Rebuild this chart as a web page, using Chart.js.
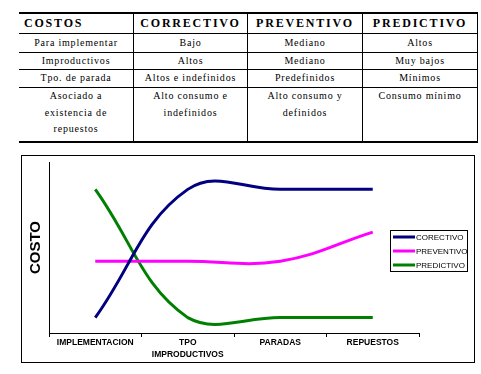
<!DOCTYPE html>
<html>
<head>
<meta charset="utf-8">
<script src="https://cdn.jsdelivr.net/npm/chart.js@4/dist/chart.umd.min.js"></script>
<style>
  html, body { margin:0; padding:0; background:#fff; }
  body { width:481px; height:374px; position:relative; overflow:hidden; }
  .ln { position:absolute; background:#000; }
  .cell { position:absolute; box-sizing:border-box; text-align:center; color:#000;
          font-family:"Liberation Serif","Times New Roman",serif; white-space:pre-line; }
  .hd { font-size:12px; font-weight:bold; letter-spacing:1.8px; line-height:19px; }
  .bd { font-size:10px; letter-spacing:0.8px; line-height:16.5px; }
  #box { position:absolute; left:21px; top:155px; width:454px; height:208px;
         border:1px solid #000; box-sizing:border-box; }
  #wrap { position:relative; width:452px; height:206px; }
</style>
</head>
<body>
<div id="tbl"></div>
<div id="box"><div id="wrap"><canvas id="c"></canvas></div></div>
<script>
// ---- table content ----
const tableHeaders = ['COSTOS', 'CORRECTIVO', 'PREVENTIVO', 'PREDICTIVO'];
const tableRows = [
  ['Para implementar', 'Bajo', 'Mediano', 'Altos'],
  ['Improductivos', 'Altos', 'Mediano', 'Muy bajos'],
  ['Tpo. de parada', 'Altos e indefinidos', 'Predefinidos', 'Mínimos'],
  ['Asociado a\nexistencia de\nrepuestos', 'Alto consumo e\nindefinidos', 'Alto consumo y\ndefinidos', 'Consumo mínimo']
];

// ---- chart data ----
const categories = ['IMPLEMENTACION', ['TPO', 'IMPRODUCTIVOS'], 'PARADAS', 'REPUESTOS'];
const seriesNames = ['CORECTIVO', 'PREVENTIVO', 'PREDICTIVO'];
const correctivo = [0.9, 8.4, 8.4, 8.4];
const preventivo = [4.2, 4.2, 4.2, 5.9];
const predictivo = [8.4, 0.9, 0.9, 0.9];
const yAxisTitle = 'COSTO';

// ---- build table ----
(function () {
  const t = document.getElementById('tbl');
  const colX = [19, 133, 247, 362, 477];
  function line(x, y, w, h) {
    const d = document.createElement('div');
    d.className = 'ln';
    d.style.left = x + 'px'; d.style.top = y + 'px';
    d.style.width = w + 'px'; d.style.height = h + 'px';
    t.appendChild(d);
  }
  line(19, 12, 459, 2);
  line(19, 33, 459, 1);
  line(19, 52, 459, 1);
  line(19, 69, 459, 1);
  line(19, 87, 459, 1);
  line(19, 141, 459, 2);
  [133, 247, 362, 477].forEach(x => line(x, 12, 1, 131));
  function cell(txt, c, top, h, cls, align) {
    const d = document.createElement('div');
    d.className = 'cell ' + cls;
    d.style.left = (colX[c] + (c ? 1 : 0)) + 'px';
    d.style.top = top + 'px';
    d.style.width = (colX[c + 1] - colX[c] - (c ? 1 : 0)) + 'px';
    d.style.height = h + 'px';
    if (align) { d.style.textAlign = align; d.style.paddingLeft = '5px'; }
    d.textContent = txt;
    t.appendChild(d);
  }
  tableHeaders.forEach((h, c) => cell(h, c, 14, 19, 'hd', c === 0 ? 'left' : null));
  const tops = [34, 53, 70, 88];
  const hts = [18, 16, 17, 53];
  tableRows.forEach((r, i) => {
    r.forEach((txt, c) => {
      cell(txt, c, tops[i] + (i < 3 ? (hts[i] - 16.5) / 2 : 0), i < 3 ? 16.5 : 53, 'bd');
    });
  });
})();

// ---- chart ----
Chart.defaults.font.family = '"Liberation Sans", Arial, sans-serif';
Chart.defaults.color = '#000';

const legendBox = {
  id: 'legendBox',
  afterDraw(chart) {
    const ctx = chart.ctx;
    const x = 368.5, y = 74.5, w = 77, h = 41;
    ctx.save();
    ctx.fillStyle = '#fff';
    ctx.fillRect(x, y, w, h);
    ctx.strokeStyle = '#000';
    ctx.lineWidth = 1;
    ctx.strokeRect(x, y, w, h);
    ctx.font = '8px "Liberation Sans", Arial, sans-serif';
    ctx.textBaseline = 'middle';
    chart.data.datasets.forEach((ds, i) => {
      const cy = 81 + i * 14;
      ctx.strokeStyle = ds.borderColor;
      ctx.lineWidth = 3;
      ctx.beginPath();
      ctx.moveTo(371, cy);
      ctx.lineTo(393, cy);
      ctx.stroke();
      ctx.fillStyle = '#000';
      ctx.fillText(ds.label, 394, cy + 0.5);
    });
    ctx.restore();
  }
};

new Chart(document.getElementById('c'), {
  type: 'line',
  data: {
    labels: categories,
    datasets: [
      { label: seriesNames[0], data: correctivo, borderColor: '#000080', backgroundColor: '#000080' },
      { label: seriesNames[1], data: preventivo, borderColor: '#FF00FF', backgroundColor: '#FF00FF' },
      { label: seriesNames[2], data: predictivo, borderColor: '#008000', backgroundColor: '#008000' }
    ]
  },
  options: {
    responsive: true,
    maintainAspectRatio: false,
    animation: false,
    devicePixelRatio: 1,
    layout: { padding: { left: 0, top: 6, right: 55, bottom: 0 } },
    elements: {
      line: { borderWidth: 3, tension: 0.4, fill: false },
      point: { radius: 0, hoverRadius: 0 }
    },
    plugins: { legend: { display: false }, tooltip: { enabled: false } },
    scales: {
      x: {
        type: 'category',
        offset: true,
        grid: { offset: true, drawOnChartArea: false, drawTicks: true, tickLength: 4, color: '#000', lineWidth: 1 },
        border: { display: true, color: '#000', width: 1 },
        ticks: { autoSkip: false, maxRotation: 0, minRotation: 0, padding: 0,
                 font: { size: 8.5, weight: 'bold', lineHeight: 1.4 }, color: '#000' },
        afterFit(s) { s.height = 29; }
      },
      y: {
        min: 0, max: 10,
        grid: { drawOnChartArea: false, drawTicks: false },
        border: { display: true, color: '#000', width: 1 },
        ticks: { display: false },
        title: { display: true, text: yAxisTitle, color: '#000',
                 font: { size: 15, weight: 'bold', lineHeight: 1.2 }, padding: { top: 5, bottom: 0 } },
        afterFit(s) { s.width = 27; }
      }
    }
  },
  plugins: [legendBox]
});
</script>
</body>
</html>
